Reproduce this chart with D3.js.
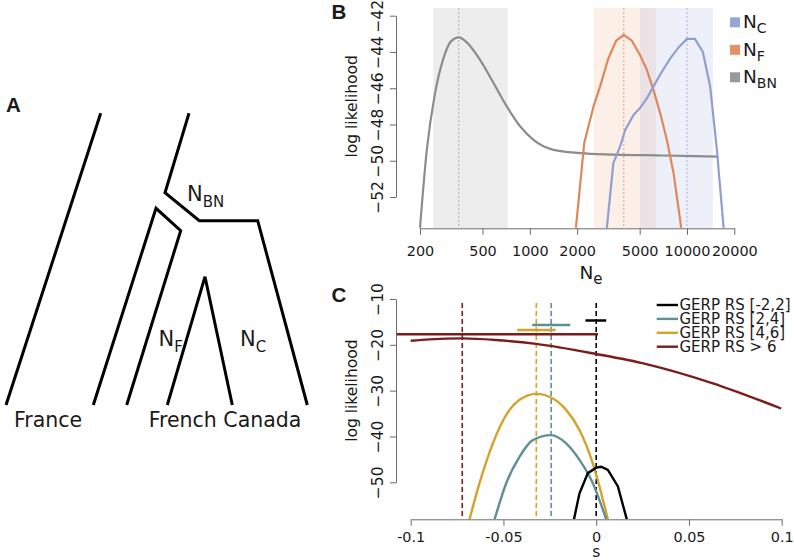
<!DOCTYPE html>
<html>
<head>
<meta charset="utf-8">
<script src="https://cdn.jsdelivr.net/npm/d3@7"></script>
<style>
  body { margin: 0; background: #fff; }
  svg { font-family: "DejaVu Sans", sans-serif; display: block; }
</style>
</head>
<body>
<div class="grafico"></div>
<script>
// ---- panel B data: log likelihood vs Ne ----
var bnNe = [200, 221, 249, 282, 314, 353, 400, 482, 586, 713, 867, 1055, 1414, 2090, 3400, 7060, 15800];
var bnLL = [-53.7, -49.4, -46.3, -44.35, -43.43, -43.2, -43.5, -44.44, -45.7, -47.0, -48.1, -48.85, -49.4, -49.58, -49.66, -49.71, -49.77];
var fNe = [1964, 2218, 2543, 2800, 3160, 3540, 3963, 4457, 5020, 5560, 6120, 6760, 7450, 8220, 9190];
var fLL = [-53.7, -49.03, -47.0, -45.9, -44.35, -43.38, -43.06, -43.38, -44.17, -45.0, -46.1, -47.4, -48.85, -50.7, -53.7];
var cNe = [3090, 3400, 3760, 4045, 4570, 5020, 5560, 6120, 6920, 7830, 8920, 10000, 11230, 12600, 14040, 15500, 17100];
var cLL = [-53.7, -50.13, -49.2, -48.3, -47.47, -47.1, -46.55, -45.9, -45.09, -44.35, -43.71, -43.28, -43.28, -43.98, -45.9, -49.4, -53.7];
// confidence bands and estimates (order: NBN, NF, NC)
var bandLo = [243, 2553, 5020];
var bandHi = [724, 6340, 14630];
var neHat = [353, 3963, 10000];
var neTicks = [200, 500, 1000, 2000, 5000, 10000, 20000];
var llTicksB = [-42, -44, -46, -48, -50, -52];

// ---- panel C data: log likelihood vs s ----
var gerpLabels = ["GERP RS [-2,2]", "GERP RS [2,4]", "GERP RS [4,6]", "GERP RS > 6"];
var s1 = [-0.012, -0.009, -0.0045, 0, 0.0027, 0.0063, 0.0117, 0.0165];
var ll1 = [-58.1, -52.4, -48.0, -46.8, -46.6, -47.3, -50.9, -58.1];
var s2 = [-0.0548, -0.0485, -0.0413, -0.0342, -0.0243, -0.0162, -0.009, -0.0018, 0.0054];
var ll2 = [-58.1, -50.2, -44.4, -40.8, -39.7, -41.5, -45.1, -50.2, -58.1];
var s3 = [-0.0683, -0.0629, -0.0557, -0.0485, -0.0413, -0.0323, -0.0234, -0.0162, -0.009, -0.0018, 0.0063];
var ll3 = [-58.1, -50.2, -41.5, -35.3, -32.0, -30.7, -31.7, -34.2, -38.6, -45.9, -58.1];
var s4 = [-0.1, -0.0899, -0.0722, -0.0539, -0.0323, 0, 0.027, 0.0629, 0.0997];
var ll4 = [-19.1, -18.8, -18.6, -18.95, -19.8, -22.0, -24.2, -28.4, -33.9];
var sHat = [0, -0.0243, -0.0323, -0.0722];
var ciLo = [-0.0058, -0.0345, -0.0426, -0.11];
var ciHi = [0.0054, -0.014, -0.0219, 0.001];
var ciLL = [-14.7, -15.67, -16.76, -17.7];
var sTicks = [-0.1, -0.05, 0, 0.05, 0.1];
var llTicksC = [-10, -20, -30, -40, -50];

var W = 794, H = 560;
var FONT = "DejaVu Sans";
var BOLD = "Liberation Sans";
var svg = d3.select(".grafico").append("svg")
  .attr("width", W)
  .attr("height", H);

var axisCol = "#6b6b6b", textCol = "#1a1a1a";

function txt(g, x, y, s, size) {
  return g.append("text")
    .attr("x", x)
    .attr("y", y)
    .attr("fill", textCol)
    .style("font-family", FONT)
    .style("font-size", size + "px")
    .text(s);
}

function subText(g, x, y, main, sub, size, subSize, anchor) {
  var t = g.append("text")
    .attr("x", x)
    .attr("y", y)
    .attr("text-anchor", anchor || "start")
    .attr("fill", textCol)
    .style("font-family", FONT)
    .style("font-size", size + "px");
  t.append("tspan").text(main);
  t.append("tspan").attr("dy", size * 0.28).style("font-size", subSize + "px").text(sub);
  return t;
}

function panelLetter(g, x, y, s) {
  g.append("text").attr("x", x).attr("y", y).text(s)
    .style("font-family", BOLD)
    .style("font-size", "20.5px").style("font-weight", "bold").attr("fill", textCol);
}

// ================= panel A: tree =================
var gA = svg.append("g");
panelLetter(gA, 6, 112, "A");

var treeLine = d3.line();
var treePaths = [
  [[100.7, 113.3], [6, 405]],
  [[189, 113.3], [165, 192.7], [199.3, 220.7], [257.7, 220.7], [307.3, 405]],
  [[93.3, 405], [156, 208.3], [180.7, 230.7], [126.7, 405]],
  [[167.3, 405], [205, 276.7], [232.3, 405]]
];
gA.selectAll(".branch")
  .data(treePaths)
  .enter().append("path")
  .attr("class", "branch")
  .attr("d", treeLine)
  .attr("fill", "none")
  .attr("stroke", "#000")
  .attr("stroke-width", 3)
  .attr("stroke-linejoin", "miter");

txt(gA, 48, 427, "France", 20.5).attr("text-anchor", "middle");
txt(gA, 225, 427, "French Canada", 20.5).attr("text-anchor", "middle");
subText(gA, 187, 201, "N", "BN", 21, 15);
subText(gA, 158.5, 346, "N", "F", 21, 15);
subText(gA, 240, 346, "N", "C", 21, 15);

// ================= panel B =================
var gB = svg.append("g");
var xB = d3.scaleLog().domain([200, 20000]).range([420, 734.3]);
var yB = d3.scaleLinear().domain([-42, -52]).range([15.7, 197]);
var topB = 8, botB = 228.3;

svg.append("clipPath").attr("id", "clipB")
  .append("rect").attr("x", 396).attr("y", topB).attr("width", W - 396).attr("height", botB - topB);

var bandFill = ["rgba(150,150,150,0.17)", "rgba(235,140,90,0.14)", "rgba(140,160,215,0.16)"];
var curveCol = ["#8c8c8c", "#e0875a", "#919fd0"];
var dashCol = ["#a9a9a9", "#e8a07c", "#a4b1dc"];

var plotB = gB.append("g").attr("clip-path", "url(#clipB)");
plotB.selectAll(".band")
  .data(d3.range(3))
  .enter().append("rect")
  .attr("x", i => xB(bandLo[i]))
  .attr("width", i => xB(bandHi[i]) - xB(bandLo[i]))
  .attr("y", topB)
  .attr("height", botB - topB)
  .attr("fill", i => bandFill[i]);

plotB.selectAll(".est")
  .data(d3.range(3))
  .enter().append("line")
  .attr("x1", i => xB(neHat[i]))
  .attr("x2", i => xB(neHat[i]))
  .attr("y1", topB)
  .attr("y2", botB)
  .attr("stroke", i => dashCol[i])
  .attr("stroke-width", 1)
  .attr("stroke-dasharray", "2,2");

var lineB = d3.line().x(d => xB(d[0])).y(d => yB(d[1]));
var seriesB = [
  { ne: bnNe, ll: bnLL, col: curveCol[0], curve: d3.curveMonotoneX },
  { ne: fNe, ll: fLL, col: curveCol[1], curve: d3.curveLinear },
  { ne: cNe, ll: cLL, col: curveCol[2], curve: d3.curveLinear }
];
seriesB.forEach(function (s) {
  plotB.append("path")
    .attr("d", lineB.curve(s.curve)(d3.zip(s.ne, s.ll)))
    .attr("fill", "none")
    .attr("stroke", s.col)
    .attr("stroke-width", 2.2);
});

// axes B
var axB = gB.append("g").attr("transform", "translate(0," + botB + ")")
  .call(d3.axisBottom(xB).tickValues(neTicks).tickFormat(d3.format("d")).tickSize(6.5).tickSizeOuter(0));
var ayB = gB.append("g").attr("transform", "translate(396,0)")
  .call(d3.axisLeft(yB).tickValues(llTicksB).tickFormat(d3.format("d")).tickSize(6).tickSizeOuter(0));

function styleAxis(a, isY, off) {
  a.attr("font-family", null).attr("font-size", null);
  a.select(".domain").attr("stroke", axisCol);
  a.selectAll(".tick line").attr("stroke", axisCol);
  a.selectAll("text").attr("fill", textCol)
    .style("font-size", isY ? "15.5px" : "14.4px")
    .style("font-family", FONT);
  if (isY) {
    a.selectAll(".tick text")
      .attr("transform", "rotate(-90)")
      .attr("x", 0).attr("y", -off).attr("dy", 0)
      .attr("text-anchor", "middle");
  } else {
    a.selectAll(".tick text").attr("y", off).attr("dy", 0);
  }
}
styleAxis(axB, false, 27.5);
styleAxis(ayB, true, 13);

txt(gB, 0, 0, "log likelihood", 15.5)
  .attr("transform", "translate(357," + yB(-47) + ") rotate(-90)")
  .attr("text-anchor", "middle");

subText(gB, 591, 278.5, "N", "e", 18.5, 15, "middle");

panelLetter(gB, 331.5, 19, "B");

// legend B (NC, NF, NBN)
var legB = [
  { sub: "C", col: "#98a6d6" },
  { sub: "F", col: "#e59066" },
  { sub: "BN", col: "#999999" }
];
legB.forEach(function (d, i) {
  var y0 = 28.3 + i * 27.5;
  gB.append("rect").attr("x", 730).attr("y", y0 - 11).attr("width", 10).attr("height", 10).attr("fill", d.col);
  subText(gB, 743, y0, "N", d.sub, 18.5, 14);
});

// ================= panel C =================
var gC = svg.append("g");
var xC = d3.scaleLinear().domain([-0.1, 0.1]).range([410.7, 781.7]);
var yC = d3.scaleLinear().domain([-10, -50]).range([299, 482.3]);
var topC = 303, botC = 519.3;

svg.append("clipPath").attr("id", "clipC")
  .append("rect").attr("x", 396).attr("y", 285).attr("width", W - 396).attr("height", botC - 285);

var gerpCol = ["#000000", "#5e9097", "#d3a32b", "#7d1c1c"];
var plotC = gC.append("g").attr("clip-path", "url(#clipC)");

plotC.selectAll(".shat")
  .data(d3.range(4))
  .enter().append("line")
  .attr("x1", i => xC(sHat[i]))
  .attr("x2", i => xC(sHat[i]))
  .attr("y1", topC)
  .attr("y2", botC)
  .attr("stroke", i => gerpCol[i])
  .attr("stroke-width", 1.6)
  .attr("stroke-dasharray", "5,3");

var lineC = d3.line().x(d => xC(d[0])).y(d => yC(d[1]));
var seriesC = [
  { s: s4, ll: ll4, col: gerpCol[3], curve: d3.curveMonotoneX },
  { s: s3, ll: ll3, col: gerpCol[2], curve: d3.curveMonotoneX },
  { s: s2, ll: ll2, col: gerpCol[1], curve: d3.curveMonotoneX },
  { s: s1, ll: ll1, col: gerpCol[0], curve: d3.curveLinear }
];
seriesC.forEach(function (d) {
  plotC.append("path")
    .attr("d", lineC.curve(d.curve)(d3.zip(d.s, d.ll)))
    .attr("fill", "none")
    .attr("stroke", d.col)
    .attr("stroke-width", 2.4);
});

plotC.selectAll(".ci")
  .data(d3.range(4))
  .enter().append("line")
  .attr("x1", i => xC(ciLo[i]))
  .attr("x2", i => xC(ciHi[i]))
  .attr("y1", i => yC(ciLL[i]))
  .attr("y2", i => yC(ciLL[i]))
  .attr("stroke", i => gerpCol[i])
  .attr("stroke-width", 2.4);

var axC = gC.append("g").attr("transform", "translate(0," + botC + ")")
  .call(d3.axisBottom(xC).tickValues(sTicks).tickFormat(d => d === 0 ? "0" : String(d)).tickSize(6.5).tickSizeOuter(0));
var ayC = gC.append("g").attr("transform", "translate(396,0)")
  .call(d3.axisLeft(yC).tickValues(llTicksC).tickFormat(d3.format("d")).tickSize(6).tickSizeOuter(0));
styleAxis(axC, false, 22.5);
styleAxis(ayC, true, 13);

txt(gC, 0, 0, "log likelihood", 15.5)
  .attr("transform", "translate(357," + yC(-30) + ") rotate(-90)")
  .attr("text-anchor", "middle");

txt(gC, xC(0), 557, "s", 15.5).attr("text-anchor", "middle");

panelLetter(gC, 331.5, 301.5, "C");

// legend C
gerpLabels.forEach(function (lab, i) {
  var y0 = 305 + i * 13.9;
  gC.append("line").attr("x1", 656.7).attr("x2", 678).attr("y1", y0).attr("y2", y0)
    .attr("stroke", gerpCol[i]).attr("stroke-width", 2.4);
  txt(gC, 679.5, y0 + 5.3, lab, 15);
});
</script>
</body>
</html>
